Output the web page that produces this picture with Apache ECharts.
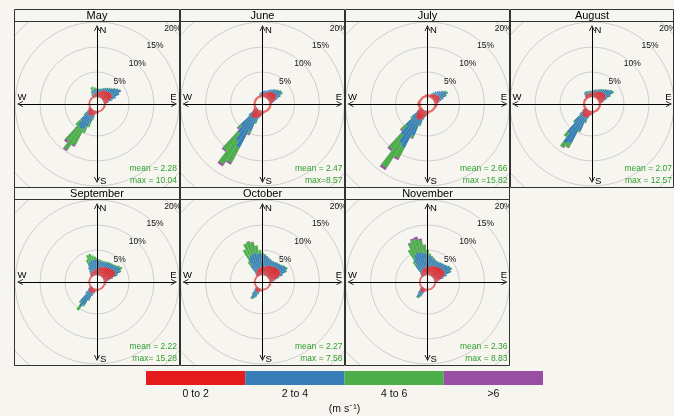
<!DOCTYPE html>
<html><head><meta charset="utf-8">
<script src="https://cdn.jsdelivr.net/npm/echarts@6/dist/echarts.min.js"></script>
<style>
html,body{margin:0;padding:0;background:#F7F5F0;width:674px;height:416px;overflow:hidden;}
#main{position:absolute;left:0;top:0;width:674px;height:416px;}
.panel{position:absolute;}
</style></head><body>
<div id="main"></div>
<script>
// ---------- categories / labels ----------
const DIRS = [0,5,10,15,20,25,30,35,40,45,50,55,60,65,70,75,80,85,90,95,100,105,110,115,120,125,130,135,140,145,150,155,160,165,170,175,180,185,190,195,200,205,210,215,220,225,230,235,240,245,250,255,260,265,270,275,280,285,290,295,300,305,310,315,320,325,330,335,340,345,350,355];
const MONTHS = ['May','June','July','August','September','October','November'];
const MEAN_TEXT = ['mean = 2.28','mean = 2.47','mean = 2.66','mean = 2.07','mean = 2.22','mean = 2.27','mean = 2.36'];
const MAX_TEXT = ['max = 10.04','max=8.57','max =15.82','max = 12.57','max= 15.28','max = 7.58','max = 8.83'];
const SPEED_BINS = ['0 to 2','2 to 4','4 to 6','>6'];
const UNIT_LABEL = '(m s\u207B\u00B9)';
const PCT_TICKS = ['5%','10%','15%','20%'];

// ---------- cumulative frequency (%) per direction, top of each speed bin ----------
const MAY_R = [0.9,1.0,1.1,1.2,1.3,1.5,1.6,1.7,1.8,1.9,2.0,2.0, 2.0,1.8,1.4,1.0,0.7,0.5,0.4,0.4,0.3,0.3,0.4,0.4, 0.3,0.3,0.3,0.3,0.3,0.3,0.3,0.3,0.3,0.3,0.4,0.4, 0.5,0.6,0.7,0.8,1.0,1.2,1.3,1.3,1.2,1.0,0.8,0.6, 0.5,0.4,0.3,0.3,0.3,0.3,0.3,0.3,0.3,0.3,0.3,0.3, 0.3,0.3,0.3,0.3,0.3,0.3,0.3,0.4,0.5,0.6,0.7,0.8];
const MAY_B = [1.6,1.6,1.6,1.7,1.8,2.0,2.2,2.4,2.6,2.9,3.3,3.7, 4.0,3.4,2.6,1.8,1.0,0.6,0,0,0,0,0,0, 0,0,0,0,0,0,0,0,0,0,0,0, 0,0,0,1.5,2.5,3.5,4.3,4.5,4.2,3.0,1.6,0.9, 0.6,0,0,0,0,0,0,0,0,0,0,0, 0,0,0,0,0,0,0.6,1.0,1.4,1.6,1.6,1.6];
const MAY_G = [1.8,1.7,1.7,1.8,1.9,2.1,2.3,2.5,2.7,3.0,3.4,3.8, 4.1,3.5,0,0,0,0,0,0,0,0,0,0, 0,0,0,0,0,0,0,0,0,0,0,0, 0,0,0,2.0,3.5,5.0,8.0,9.5,8.0,4.5,2.0,0, 0,0,0,0,0,0,0,0,0,0,0,0, 0,0,0,0,0,0,0.8,1.4,2.1,2.2,2.0,1.9];
const MAY_P = [0,0,0,0,0,0,0,0,0,0,0,0, 0,0,0,0,0,0,0,0,0,0,0,0, 0,0,0,0,0,0,0,0,0,0,0,0, 0,0,0,0,0,0,8.3,9.8,8.4,0,0,0, 0,0,0,0,0,0,0,0,0,0,0,0, 0,0,0,0,0,0,0,0,0,0,0,0];

const JUN_R = [0.6,0.7,0.8,0.9,1.0,1.2,1.3,1.5,1.6,1.7,1.8,1.8, 1.7,1.5,1.2,0.9,0.6,0.5,0.4,0.4,0.4,0.4,0.4,0.4, 0.4,0.4,0.4,0.4,0.4,0.4,0.4,0.4,0.4,0.4,0.5,0.6, 0.7,0.9,1.0,1.2,1.5,1.7,1.8,1.9,1.8,1.6,1.1,0.8, 0.6,0.5,0.4,0.4,0.4,0.4,0.4,0.4,0.4,0.4,0.4,0.4, 0.4,0.4,0.4,0.4,0.4,0.4,0.4,0.4,0.4,0.4,0.5,0.5];
const JUN_B = [1.1,1.2,1.3,1.4,1.5,1.7,1.9,2.1,2.3,2.5,2.8,3.0, 3.0,2.5,1.8,1.2,0.8,0.6,0,0,0,0,0,0, 0,0,0,0,0,0,0,0,0,0,0,0, 0,0,1.2,1.6,2.5,4.5,8.5,7.5,6.0,4.5,2.0,1.0, 0,0,0,0,0,0,0,0,0,0,0,0, 0,0,0,0,0,0,0,0,0.6,0.8,0.9,1.0];
const JUN_G = [0,0,0,0,0,0,0,0,2.4,2.6,2.9,3.2, 3.2,2.6,0,0,0,0,0,0,0,0,0,0, 0,0,0,0,0,0,0,0,0,0,0,0, 0,0,0,0,2.8,5.1,11.9,13.0,10.3,5.3,2.2,0, 0,0,0,0,0,0,0,0,0,0,0,0, 0,0,0,0,0,0,0,0,0,0,0,0];
const JUN_P = [0,0,0,0,0,0,0,0,0,0,0,0, 0,0,0,0,0,0,0,0,0,0,0,0, 0,0,0,0,0,0,0,0,0,0,0,0, 0,0,0,0,0,5.4,12.3,13.4,10.7,5.6,0,0, 0,0,0,0,0,0,0,0,0,0,0,0, 0,0,0,0,0,0,0,0,0,0,0,0];

const JUL_R = [0.5,0.5,0.5,0.5,0.6,0.7,0.8,0.9,1.0,1.1,1.2,1.3, 1.3,1.3,1.2,1.0,0.8,0.7,0.7,0.6,0.6,0.5,0.5,0.4, 0.4,0.4,0.4,0.4,0.4,0.4,0.4,0.4,0.4,0.4,0.5,0.6, 0.7,0.9,1.0,1.3,1.7,2.0,2.2,2.2,2.0,1.6,1.2,0.8, 0.6,0.5,0.5,0.5,0.6,0.6,0.7,0.6,0.6,0.5,0.5,0.4, 0.4,0.4,0.4,0.4,0.4,0.4,0.4,0.4,0.4,0.5,0.5,0.5];
const JUL_B = [0,0,0,0,0.8,1.0,1.3,1.6,1.9,2.2,2.6,2.9, 3.0,2.6,2.0,1.4,1.0,0,0,0,0,0,0,0, 0,0,0,0,0,0,0,0,0,0,0,0, 0,0,1.2,1.8,3.0,5.5,8.5,8.0,6.5,4.5,2.5,1.2, 0,0,0,0,0,0,0,0,0,0,0,0, 0,0,0,0,0,0,0,0,0,0,0,0];
const JUL_G = [0,0,0,0,0,0,0,0,0,0,0,3.1, 3.3,2.8,0,0,0,0,0,0,0,0,0,0, 0,0,0,0,0,0,0,0,0,0,0,0, 0,0,0,0,3.3,6.0,10.9,13.8,10.1,5.8,3.0,0, 0,0,0,0,0,0,0,0,0,0,0,0, 0,0,0,0,0,0,0,0,0,0,0,0];
const JUL_P = [0,0,0,0,0,0,0,0,0,0,0,0, 0,0,0,0,0,0,0,0,0,0,0,0, 0,0,0,0,0,0,0,0,0,0,0,0, 0,0,0,0,0,6.2,11.3,14.3,10.5,6.1,0,0, 0,0,0,0,0,0,0,0,0,0,0,0, 0,0,0,0,0,0,0,0,0,0,0,0];

const AUG_R = [0.8,0.9,1.0,1.1,1.2,1.3,1.4,1.5,1.6,1.7,1.8,1.8, 1.7,1.5,1.2,0.9,0.6,0.5,0.4,0.4,0.4,0.4,0.4,0.4, 0.4,0.4,0.4,0.4,0.4,0.4,0.4,0.4,0.4,0.4,0.5,0.6, 0.7,0.8,0.9,1.1,1.3,1.5,1.6,1.6,1.5,1.2,0.9,0.7, 0.5,0.4,0.4,0.4,0.4,0.4,0.4,0.4,0.4,0.4,0.4,0.4, 0.4,0.4,0.4,0.4,0.5,0.7,0.8,0.8,0.8,0.8,0.8,0.8];
const AUG_B = [1.2,1.3,1.4,1.5,1.6,1.7,1.9,2.1,2.3,2.6,2.9,3.3, 3.4,2.6,1.8,1.2,0.8,0,0,0,0,0,0,0, 0,0,0,0,0,0,0,0,0,0,0,0, 0,0,1.0,1.5,2.5,4.5,7.5,8.0,6.0,3.5,1.8,1.0, 0,0,0,0,0,0,0,0,0,0,0,0, 0,0,0,0,0.8,1.2,1.3,1.3,1.2,1.2,1.2,1.2];
const AUG_G = [1.3,1.4,1.5,1.6,1.7,1.8,2.0,2.2,2.4,2.7,3.0,3.4, 3.6,2.7,0,0,0,0,0,0,0,0,0,0, 0,0,0,0,0,0,0,0,0,0,0,0, 0,0,0,0,2.7,4.8,8.5,9.0,7.0,3.8,0,0, 0,0,0,0,0,0,0,0,0,0,0,0, 0,0,0,0,0,1.3,1.4,1.4,1.3,1.3,1.3,1.3];
const AUG_P = [0,0,0,0,0,0,0,0,0,0,0,0, 0,0,0,0,0,0,0,0,0,0,0,0, 0,0,0,0,0,0,0,0,0,0,0,0, 0,0,0,0,0,0,8.6,9.1,0,0,0,0, 0,0,0,0,0,0,0,0,0,0,0,0, 0,0,0,0,0,0,0,0,0,0,0,0];

const SEP_R = [1.3,1.4,1.5,1.6,1.7,1.8,2.0,2.1,2.2,2.3,2.4,2.6, 2.7,2.6,2.1,1.4,0.9,0.6,0.4,0.3,0.3,0.3,0.3,0.3, 0.3,0.3,0.3,0.3,0.3,0.3,0.3,0.3,0.3,0.3,0.4,0.4, 0.5,0.5,0.6,0.7,0.9,1.0,1.1,1.1,1.0,0.8,0.6,0.4, 0.3,0.3,0.3,0.3,0.3,0.3,0.3,0.3,0.3,0.3,0.3,0.3, 0.3,0.3,0.3,0.4,0.5,0.6,0.7,0.8,0.9,1.0,1.1,1.2];
const SEP_B = [3.0,2.9,2.8,2.8,2.8,2.9,3.0,3.1,3.2,3.3,3.5,3.8, 4.0,3.6,2.8,1.9,1.2,0.7,0,0,0,0,0,0, 0,0,0,0,0,0,0,0,0,0,0,0, 0,0,0,1.0,1.6,2.5,3.8,4.5,3.5,1.8,0.9,0, 0,0,0,0,0,0,0,0,0,0,0,0, 0,0,0,0,0.8,1.2,1.8,2.5,2.9,3.0,3.1,3.1];
const SEP_G = [3.4,3.2,3.1,3.0,3.0,3.1,3.2,3.3,3.4,3.5,3.7,4.1, 4.4,3.9,3.0,0,0,0,0,0,0,0,0,0, 0,0,0,0,0,0,0,0,0,0,0,0, 0,0,0,0,0,2.7,4.2,5.4,4.0,0,0,0, 0,0,0,0,0,0,0,0,0,0,0,0, 0,0,0,0,0,0,2.0,3.5,4.3,4.4,4.0,3.7];
const SEP_P = [0,0,0,0,0,0,0,0,0,0,0,0, 0,0,0,0,0,0,0,0,0,0.6,0,0, 0,0,0,0,0,0,0,0,0,0,0,0, 0,0,0,0,0,0,0,0,0,0,0,0, 0,0,0,0,0,0,0.5,0,0,0,0,0, 0,0,0,0,0,0,0,0,0,0,0,0];

const OCT_R = [1.7,1.7,1.8,1.9,2.0,2.1,2.2,2.3,2.4,2.5,2.5,2.6, 2.6,2.4,2.0,1.5,1.0,0.6,0.4,0.3,0.3,0.3,0.3,0.3, 0.3,0.3,0.3,0.3,0.3,0.3,0.3,0.3,0.3,0.3,0.3,0.3, 0.4,0.5,0.5,0.6,0.7,0.8,0.8,0.8,0.7,0.6,0.4,0.3, 0.3,0.3,0.3,0.3,0.3,0.3,0.3,0.3,0.3,0.3,0.3,0.3, 0.3,0.3,0.3,0.4,0.5,0.7,0.9,1.1,1.3,1.4,1.5,1.6];
const OCT_B = [4.2,4.0,3.8,3.5,3.3,3.2,3.2,3.3,3.4,3.5,3.7,4.0, 4.2,3.8,2.9,2.0,1.3,0.8,0,0,0,0,0,0, 0,0,0,0,0,0,0,0,0,0,0,0, 0,0,0,0,1.2,1.8,2.3,2.4,1.6,1.0,0,0, 0,0,0,0,0,0,0,0,0,0,0,0, 0,0,0,0,0.8,2.5,3.8,4.3,4.5,4.5,4.4,4.3];
const OCT_G = [4.5,4.2,3.9,3.6,3.4,3.3,3.3,3.4,3.5,3.6,3.8,4.1, 4.3,3.9,0,0,0,0,0,0,0,0,0,0, 0,0,0,0,0,0,0,0,0,0,0,0, 0,0,0,0,0,2.0,2.5,2.7,1.8,0,0,0, 0,0,0,0,0,0,0,0,0,0,0,0, 0,0,0,0,0,3.5,6.0,7.0,7.1,6.8,6.0,5.0];
const OCT_P = [0,0,0,0,0,0,0,0,0,0,0,0, 0,0,0,0,0,0,0,0,0,0,0.5,0, 0,0,0,0,0,0,0,0,0,0,0,0, 0,0,0,0,0,0,0,0,0,0,0,0, 0,0,0,0,0,0,0.5,0,0,0,0,0, 0,0,0,0,0,0,0,0,7.2,6.9,0,0];

const NOV_R = [1.7,1.7,1.8,1.9,2.0,2.0,2.1,2.2,2.3,2.4,2.4,2.5, 2.5,2.3,1.9,1.4,0.9,0.6,0.4,0.3,0.3,0.3,0.3,0.3, 0.3,0.3,0.3,0.3,0.3,0.3,0.3,0.3,0.3,0.3,0.3,0.3, 0.4,0.4,0.5,0.6,0.7,0.8,0.9,0.9,0.8,0.6,0.4,0.3, 0.3,0.3,0.3,0.3,0.3,0.3,0.3,0.3,0.3,0.3,0.3,0.3, 0.3,0.3,0.3,0.4,0.5,0.7,0.9,1.1,1.3,1.4,1.5,1.6];
const NOV_B = [4.1,3.9,3.6,3.4,3.2,3.1,3.1,3.2,3.3,3.4,3.6,3.9, 4.0,3.6,2.7,1.9,1.2,0.7,0,0,0,0,0,0, 0,0,0,0,0,0,0,0,0,0,0,0, 0,0,0,0,1.0,1.6,2.1,2.2,1.4,0.8,0,0, 0,0,0,0,0,0,0,0,0,0,0,0, 0,0,0,0,0.8,2.5,3.8,4.5,4.8,4.7,4.5,4.3];
const NOV_G = [5.0,4.3,3.9,3.6,3.3,3.2,3.2,3.3,3.4,3.5,3.7,4.0, 4.2,3.8,0,0,0,0,0,0,0,0,0,0, 0,0,0,0,0,0,0,0,0,0,0,0, 0,0,0,0,0,1.8,2.3,2.4,1.5,0,0,0, 0,0,0,0,0,0,0,0,0,0,0,0, 0,0,0,0,0,3.5,6.0,7.0,7.5,7.4,7.0,6.0];
const NOV_P = [0,0,0,0,0,0,0,0,0,0,0,0, 0,0,0,0,0,0,0,0,0,0,0,0, 0,0,0,0,0,0,0,0,0,0,0,0, 0,0,0,0,0,0,0,0,0,0,0,0, 0,0,0,0,0,0,0,0,0,0,0,0, 0,0,0,0,0,0,0,7.2,7.8,7.9,7.4,6.1];

const MONTH_DATA = [
  [MAY_R, MAY_B, MAY_G, MAY_P],
  [JUN_R, JUN_B, JUN_G, JUN_P],
  [JUL_R, JUL_B, JUL_G, JUL_P],
  [AUG_R, AUG_B, AUG_G, AUG_P],
  [SEP_R, SEP_B, SEP_G, SEP_P],
  [OCT_R, OCT_B, OCT_G, OCT_P],
  [NOV_R, NOV_B, NOV_G, NOV_P]
];

// ---------- style / layout ----------
const FONT = '"Liberation Sans", Arial, Helvetica, sans-serif';
const COLORS = ['#E41A1C', '#377EB8', '#4DAF4A', '#984EA3'];
const TEXT_GREEN = '#2f9e2f';
const FRAME = '#333333';
const COL_X = [14, 180, 345, 510, 674];
const STRIP_TOP = [9, 187];
const PLOT_TOP = [21, 199];
const PLOT_H = 166;
const HOLE = 7, PX_PER_PCT = 5, RMAX = 20;
const ARROW = 'path://M5,0 L10,10 L8.6,10 L5,2.8 L1.4,10 L0,10 Z';

function panelGeom(i) {
  const row = i < 4 ? 0 : 1;
  const col = i < 4 ? i : i - 4;
  const xL = COL_X[col], xR = COL_X[col + 1];
  const yS = STRIP_TOP[row], yP = PLOT_TOP[row], yB = yP + PLOT_H;
  return { xL, xR, yS, yP, yB, cx: (xL + xR) / 2, cy: yP + PLOT_H / 2 };
}

// ---------- main background chart: frames, titles, legend ----------
const main = echarts.init(document.getElementById('main'), null, { renderer: 'canvas' });
const frameGraphics = [];
MONTHS.forEach((m, i) => {
  const g = panelGeom(i);
  frameGraphics.push({ type: 'rect', z: 1, shape: { x: g.xL + 0.5, y: g.yS + 0.5, width: g.xR - g.xL - 1, height: g.yB - g.yS },
    style: { fill: 'none', stroke: FRAME, lineWidth: 1 } });
  frameGraphics.push({ type: 'line', z: 1, shape: { x1: g.xL, y1: g.yP + 0.5, x2: g.xR, y2: g.yP + 0.5 },
    style: { stroke: FRAME, lineWidth: 1 } });
  frameGraphics.push({ type: 'text', z: 2, x: g.cx, y: (g.yS + g.yP) / 2 + 0.5,
    style: { text: m, align: 'center', verticalAlign: 'middle', fontSize: 11, fontFamily: FONT, fill: '#000' } });
});
main.setOption({
  animation: false,
  backgroundColor: '#F7F5F0',
  graphic: frameGraphics,
  grid: { left: 146, top: 371, width: 397, height: 15 },
  xAxis: { type: 'category', data: SPEED_BINS, boundaryGap: true,
    axisLine: { show: false }, axisTick: { show: false }, splitLine: { show: false },
    axisLabel: { margin: 4, color: '#111', fontSize: 10.5, fontFamily: FONT },
    name: UNIT_LABEL, nameLocation: 'middle', nameGap: 19,
    nameTextStyle: { color: '#111', fontSize: 10.5, fontFamily: FONT } },
  yAxis: { type: 'value', min: 0, max: 1, show: false },
  series: [{ type: 'bar', silent: true, barWidth: '100%',
    data: SPEED_BINS.map((s, i) => ({ value: 1, itemStyle: { color: COLORS[i] } })) }]
});

// ---------- one polar chart per month ----------
MONTHS.forEach((m, i) => {
  const g = panelGeom(i);
  const div = document.createElement('div');
  div.className = 'panel';
  const left = g.xL + 1, top = g.yP + 1;
  const w = g.xR - g.xL - 2, h = PLOT_H - 1;
  div.style.left = left + 'px'; div.style.top = top + 'px';
  div.style.width = w + 'px'; div.style.height = h + 'px';
  document.body.appendChild(div);
  const cx = g.cx - left, cy = g.cy - top;
  const chart = echarts.init(div, null, { renderer: 'canvas' });
  const radius = [HOLE, HOLE + PX_PER_PCT * RMAX];
  const series = [];
  const data = MONTH_DATA[i];
  [3, 2, 1, 0].forEach((k) => {
    series.push({
      type: 'bar', coordinateSystem: 'polar', polarIndex: 0, silent: true,
      barGap: '-100%', barCategoryGap: '0%', z: 5 - k,
      data: data[k].map(v => (v > 0 ? v : null)),
      itemStyle: { color: COLORS[k], borderColor: 'rgba(255,255,255,0.35)', borderWidth: 0.3 }
    });
  });
  const axisLine = { onZero: true, symbol: [ARROW, ARROW], symbolSize: [8, 6], lineStyle: { color: '#000', width: 1 } };
  chart.setOption({
    animation: false,
    backgroundColor: 'transparent',
    polar: [{ center: [cx, cy], radius: radius }, { center: [cx, cy], radius: radius }],
    angleAxis: [
      { polarIndex: 0, type: 'category', data: DIRS, startAngle: 92.5, clockwise: true, show: false },
      { polarIndex: 1, type: 'value', min: 0, max: 360, startAngle: 45, clockwise: true, show: false }
    ],
    radiusAxis: [
      { polarIndex: 0, type: 'value', min: 0, max: RMAX, show: false },
      { polarIndex: 1, type: 'value', min: 0, max: RMAX, interval: 5, z: 0,
        axisLine: { show: false }, axisTick: { show: false },
        axisLabel: { margin: 0, align: 'center', verticalAlign: 'middle', fontSize: 8.5, fontFamily: FONT, color: '#111',
          formatter: (v) => (v > 0 ? PCT_TICKS[v / 5 - 1] : '') },
        splitLine: { show: true, showMinLine: false, lineStyle: { color: '#cdcdcd', width: 1 } } }
    ],
    grid: { left: cx - 77, top: cy - 76, width: 154, height: 152 },
    xAxis: { type: 'value', min: -1, max: 1, z: 10, axisLine: axisLine,
      axisTick: { show: false }, axisLabel: { show: false }, splitLine: { show: false } },
    yAxis: { type: 'value', min: -1, max: 1, z: 10, axisLine: axisLine,
      axisTick: { show: false }, axisLabel: { show: false }, splitLine: { show: false } },
    series: series,
    graphic: [
      { type: 'text', z: 20, x: cx + 2.5, y: cy - 74, style: { text: 'N', align: 'left', verticalAlign: 'middle', fontSize: 9.5, fontFamily: FONT, fill: '#000' } },
      { type: 'text', z: 20, x: cx + 3, y: cy + 77, style: { text: 'S', align: 'left', verticalAlign: 'middle', fontSize: 9.5, fontFamily: FONT, fill: '#000' } },
      { type: 'text', z: 20, x: cx - 79.5, y: cy - 6.5, style: { text: 'W', align: 'left', verticalAlign: 'middle', fontSize: 9.5, fontFamily: FONT, fill: '#000' } },
      { type: 'text', z: 20, x: cx + 79.7, y: cy - 6.5, style: { text: 'E', align: 'right', verticalAlign: 'middle', fontSize: 9.5, fontFamily: FONT, fill: '#000' } },
      { type: 'text', z: 20, x: cx + 80, y: cy + 71, style: { text: MEAN_TEXT[i] + '\n' + MAX_TEXT[i], align: 'right', verticalAlign: 'middle', lineHeight: 12, fontSize: 8.5, fontFamily: FONT, fill: TEXT_GREEN } }
    ]
  });
});
</script>
</body></html>
